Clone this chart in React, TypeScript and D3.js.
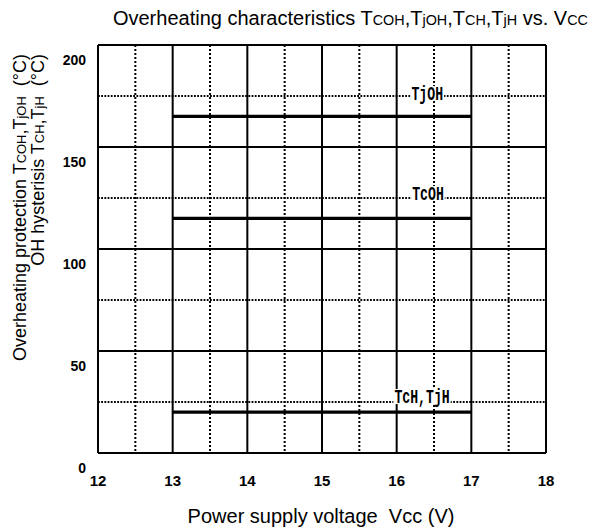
import React from "react";
import * as d3 from "d3";

const vccRange = [13, 17];
const seriesNames = ["TjOH", "TcOH", "TcH,TjH"];
const seriesValues = [165, 115, 20];
const labelVcc = [16.41, 16.42, 16.34];
const labelTemp = [173, 124, 24.5];
const xTicks = [12, 13, 14, 15, 16, 17, 18];
const yTicks = [0, 50, 100, 150, 200];
const xMinor = [12.5, 13.5, 14.5, 15.5, 16.5, 17.5];
const yMinor = [25, 75, 125, 175];

const W = 613;
const H = 528;

export default function App() {
  const x = d3.scaleLinear().domain([12, 18]).range([98, 546]);
  const y = d3.scaleLinear().domain([0, 200]).range([453, 45]);
  const sans = "'Liberation Sans', Arial, sans-serif";
  const mono = "'Liberation Mono', 'Courier New', monospace";
  const sub = { fontSize: "0.72em" } as any;

  return (
    <svg width={W} height={H} style={{ position: "absolute", left: 0, top: 0, background: "#fff" }}>
      <rect x={0} y={0} width={W} height={H} fill="#fff" />
      {/* title */}
      <text x={588} y={25} textAnchor="end" fontFamily={sans} fontSize={20} fill="#000">
        Overheating characteristics T<tspan style={sub}>COH</tspan>,T<tspan style={sub}>jOH</tspan>,T
        <tspan style={sub}>CH</tspan>,T<tspan style={sub}>jH</tspan> vs. V<tspan style={sub}>CC</tspan>
      </text>

      {/* minor dotted grid */}
      {xMinor.map((v) => (
        <line key={"xm" + v} x1={x(v)} x2={x(v)} y1={y(200)} y2={y(0)} stroke="#000" strokeWidth={2} strokeDasharray="2 2" />
      ))}
      {yMinor.map((v) => (
        <line key={"ym" + v} x1={x(12)} x2={x(18)} y1={y(v)} y2={y(v)} stroke="#000" strokeWidth={2} strokeDasharray="1.8 1.4" />
      ))}
      {/* major solid grid */}
      {xTicks.map((v) => (
        <line key={"xg" + v} x1={x(v)} x2={x(v)} y1={y(200)} y2={y(0)} stroke="#000" strokeWidth={2} />
      ))}
      {yTicks.map((v) => (
        <line key={"yg" + v} x1={x(12)} x2={x(18)} y1={y(v)} y2={y(v)} stroke="#000" strokeWidth={2} />
      ))}

      {/* data lines */}
      {seriesValues.map((v, i) => (
        <line key={"s" + i} x1={x(vccRange[0])} x2={x(vccRange[1])} y1={y(v)} y2={y(v)} stroke="#000" strokeWidth={3.2} />
      ))}
      {seriesNames.map((name, i) => {
        const w = name.length * 7.9;
        const cx = x(labelVcc[i]);
        const by = y(labelTemp[i]);
        return (
          <g key={"l" + name}>
            <rect x={cx - w / 2 - 1} y={by - 14} width={w + 2} height={15} fill="#fff" />
            <text
              x={cx - w / 2}
              y={by}
              textLength={w}
              lengthAdjust="spacingAndGlyphs"
              fontFamily={mono}
              fontWeight="bold"
              fontSize={21}
              fill="#000"
            >
              {name}
            </text>
          </g>
        );
      })}

      {/* y tick labels */}
      {yTicks.map((v) => (
        <text key={"yt" + v} x={86} y={y(v) + 19.5} textAnchor="end" fontFamily={sans} fontWeight="bold" fontSize={14} fill="#000">
          {v}
        </text>
      ))}
      {/* x tick labels */}
      {xTicks.map((v) => (
        <text key={"xt" + v} x={x(v)} y={485.5} textAnchor="middle" fontFamily={sans} fontWeight="bold" fontSize={15} fill="#000">
          {v}
        </text>
      ))}

      {/* axis titles */}
      <text x={321} y={523} textAnchor="middle" fontFamily={sans} fontSize={20} fill="#000" style={{ whiteSpace: "pre" }}>
        Power supply voltage  Vcc (V)
      </text>
      <text transform="translate(25.5,54) rotate(-90)" textAnchor="end" fontFamily={sans} fontSize={18} fill="#000" style={{ whiteSpace: "pre" }}>
        Overheating protection T<tspan style={sub}>COH</tspan>,T<tspan style={sub}>jOH</tspan>{"  "}(°C)
      </text>
      <text transform="translate(44,54) rotate(-90)" textAnchor="end" fontFamily={sans} fontSize={18} fill="#000" style={{ whiteSpace: "pre" }}>
        OH hysterisis T<tspan style={sub}>CH</tspan>,T<tspan style={sub}>jH</tspan>{"  "}(°C)
      </text>
    </svg>
  );
}
